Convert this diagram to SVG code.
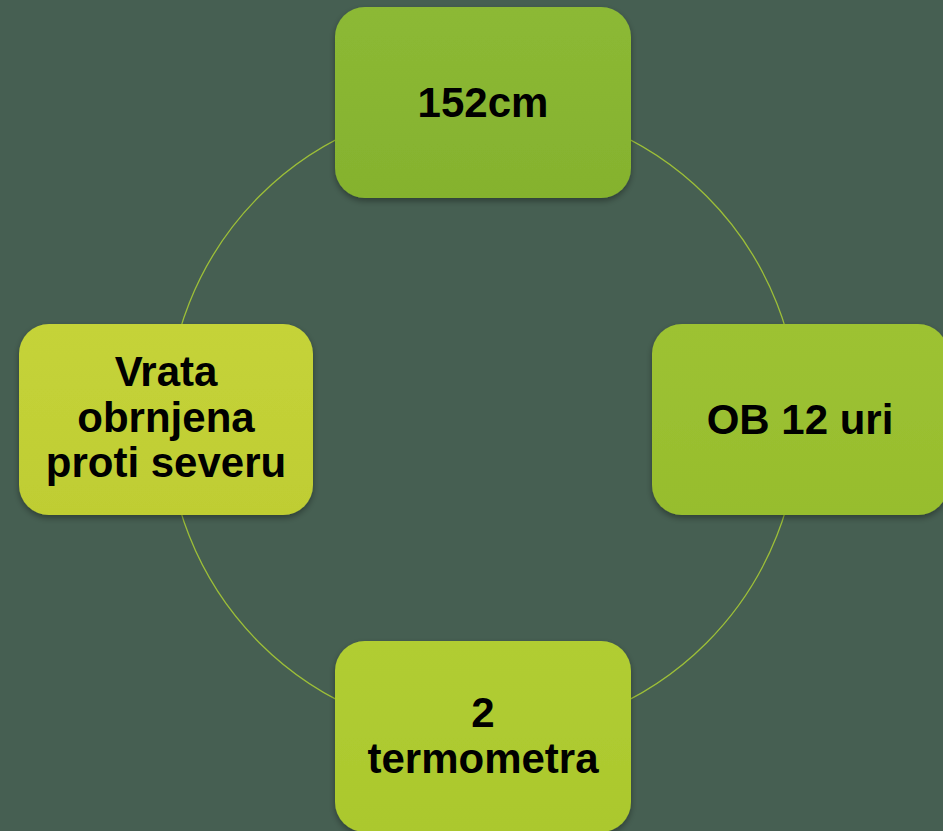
<svg xmlns="http://www.w3.org/2000/svg" width="943" height="831" viewBox="0 0 943 831">
  <style>
    .lbl { font-family: "Century Gothic", "URW Gothic", "Liberation Sans", Arial, sans-serif; font-weight: bold; font-size: 42px; fill: #000000; text-anchor: middle; }
    .box { filter: url(#shadow); }
  </style>
  <defs>
    <filter id="shadow" x="-10%" y="-10%" width="120%" height="130%">
      <feDropShadow dx="0" dy="3" stdDeviation="3" flood-color="#000000" flood-opacity="0.35"/>
    </filter>
    <linearGradient id="gTop" x1="0" y1="0" x2="0" y2="1">
      <stop offset="0" stop-color="#8cb935"/>
      <stop offset="1" stop-color="#85b22e"/>
    </linearGradient>
    <linearGradient id="gRight" x1="0" y1="0" x2="0" y2="1">
      <stop offset="0" stop-color="#9dc233"/>
      <stop offset="1" stop-color="#97bd2d"/>
    </linearGradient>
    <linearGradient id="gBottom" x1="0" y1="0" x2="0" y2="1">
      <stop offset="0" stop-color="#b1cd33"/>
      <stop offset="1" stop-color="#abc82d"/>
    </linearGradient>
    <linearGradient id="gLeft" x1="0" y1="0" x2="0" y2="1">
      <stop offset="0" stop-color="#c5d339"/>
      <stop offset="1" stop-color="#bfcd33"/>
    </linearGradient>
  </defs>
  <rect x="0" y="0" width="943" height="831" fill="#465f52"/>
  <g id="connectors">
    <circle cx="483" cy="419.5" r="316" fill="none" stroke="#9dbf38" stroke-width="1.3"/>
  </g>
  <g id="node-top">
    <rect class="box" x="335" y="7" width="296" height="191" rx="30" fill="url(#gTop)"/>
    <text class="lbl" x="483" y="117">152cm</text>
  </g>
  <g id="node-right">
    <rect class="box" x="652" y="324" width="296" height="191" rx="30" fill="url(#gRight)"/>
    <text class="lbl" x="800" y="434">OB 12 uri</text>
  </g>
  <g id="node-bottom">
    <rect class="box" x="335" y="641" width="296" height="191" rx="30" fill="url(#gBottom)"/>
    <text class="lbl" x="483" y="727">2</text>
    <text class="lbl" x="483" y="773">termometra</text>
  </g>
  <g id="node-left">
    <rect class="box" x="19" y="324" width="294" height="191" rx="30" fill="url(#gLeft)"/>
    <text class="lbl" x="166" y="386">Vrata</text>
    <text class="lbl" x="166" y="432">obrnjena</text>
    <text class="lbl" x="166" y="477">proti severu</text>
  </g>
</svg>
